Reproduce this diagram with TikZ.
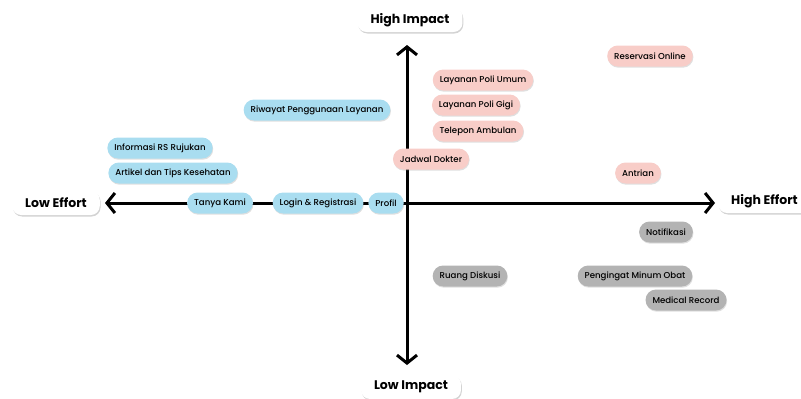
\documentclass[tikz,border=0pt]{standalone}
\usepackage{fontspec}
\setmainfont{Poppins}
\newfontfamily\medfont{Poppins Medium}
\usetikzlibrary{arrows.meta,shadows}
\definecolor{bluebox}{HTML}{A9DDF0}
\definecolor{pinkbox}{HTML}{F8CDC8}
\definecolor{graybox}{HTML}{B3B3B3}
\tikzset{
  pill/.style={rectangle, rounded corners=10.5pt, minimum height=21pt, inner xsep=7pt, inner ysep=0pt,
    font=\medfont\fontsize{8.6}{10}\selectfont, text=black,
    drop shadow={opacity=0.25, shadow xshift=0.6pt, shadow yshift=-1.2pt}},
  bluep/.style={pill, fill=bluebox},
  pinkp/.style={pill, fill=pinkbox},
  grayp/.style={pill, fill=graybox},
  axlabel/.style={rectangle, rounded corners=9pt, fill=white, minimum height=24pt, inner xsep=13pt,
    font=\fontsize{12.5}{14}\selectfont\bfseries,
    drop shadow={opacity=0.35, shadow xshift=0.8pt, shadow yshift=-1.5pt}},
  axis/.style={line width=3pt, -{Straight Barb[length=8pt,width=20pt,line width=3pt]}}
}
\begin{document}
\begin{tikzpicture}[x=1pt,y=-1pt]
\useasboundingbox (0,0) rectangle (801,399);
\coordinate (o) at (407,203);
\coordinate (top) at (407,45);
\coordinate (bot) at (407,365);
\coordinate (lft) at (105,203);
\coordinate (rgt) at (715,203);
\draw[axis] (o) -- (top);
\draw[axis] (o) -- (bot);
\draw[axis] (o) -- (lft);
\draw[axis] (o) -- (rgt);

\node[axlabel] (hi) at (410,20) {High Impact};
\node[axlabel] (lo) at (411,387) {Low Impact};
\node[axlabel] (le) at (56,203) {Low Effort};
\node[axlabel, anchor=west] (he) at (718,201) {High Effort};

\node[bluep] (riwayat) at (317,110) {Riwayat Penggunaan Layanan};
\node[bluep] (info) at (160,148) {Informasi RS Rujukan};
\node[bluep] (artikel) at (173,173) {Artikel dan Tips Kesehatan};
\node[bluep] (tanya) at (220,203) {Tanya Kami};
\node[bluep] (login) at (318,203) {Login \& Registrasi};
\node[bluep] (profil) at (386,203) {Profil};

\node[pinkp] (reservasi) at (650,56) {Reservasi Online};
\node[pinkp] (umum) at (483,80) {Layanan Poli Umum};
\node[pinkp] (gigi) at (476,105) {Layanan Poli Gigi};
\node[pinkp] (telepon) at (478,131) {Telepon Ambulan};
\node[pinkp] (jadwal) at (431,159) {Jadwal Dokter};
\node[pinkp] (antrian) at (638,173) {Antrian};

\node[grayp] (notif) at (666,232) {Notifikasi};
\node[grayp] (ruang) at (470,276) {Ruang Diskusi};
\node[grayp] (pengingat) at (635,276) {Pengingat Minum Obat};
\node[grayp] (medical) at (686,300) {Medical Record};
\end{tikzpicture}
\end{document}
